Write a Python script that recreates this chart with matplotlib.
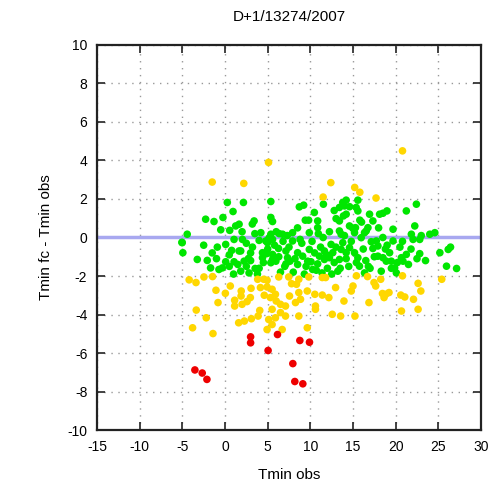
import matplotlib
matplotlib.use("Agg")
import matplotlib.pyplot as plt

title = "D+1/13274/2007"
x_label = "Tmin obs"
y_label = "Tmin fc - Tmin obs"
x_ticks = [-15, -10, -5, 0, 5, 10, 15, 20, 25, 30]
y_ticks = [-10, -8, -6, -4, -2, 0, 2, 4, 6, 8, 10]

green_x = [-4.43, -5.02, -4.94, -3.25, -2.27, -1.29, -2.08, -1.69, -0.71, -0.31, -0.90, 0.08,
           0.27, -0.24, 0.94, 0.55, 1.25, 1.65, 1.06, 2.04, 0.78, 1.65, 1.84, 0.08, 1.06, 2.24,
           2.75, 2.16, 3.41, 3.22, 3.53, 1.84, 2.82, 4.20, 4.39, 4.00, 4.78, 5.18, 5.37, 5.57,
           4.98, 5.37, 5.37, 5.57, 4.86, 5.57, 5.57, 5.37, 6.35, 6.75, 6.27, 7.14, 7.33, 7.61,
           7.92, 7.92, 8.51, 8.51, 8.71, 9.22, 9.41, 9.88, 9.88, 10.47, 10.86, 10.86, 10.94, 10.08,
           10.27, 11.06, 11.53, 11.37, 11.65, 12.24, 12.43, 12.63, 13.02, 13.41, 13.41, 13.61, 13.80,
           14.00, 14.20, 13.41, 13.88, 14.20, 13.80, 13.61, 13.41, 13.22, 14.59, 14.98, 15.37, 15.57,
           15.57, 15.29, 15.18, 14.59, 15.18, 15.57, 15.76, 16.35, 15.96, 16.55, 16.94, 17.33, 17.14,
           17.33, 17.73, 18.12, 18.51, 18.98, 17.92, 18.51, 18.90, 19.49, 18.31, 19.69, 19.69, 19.29,
           19.88, 20.08, 20.67, 20.86, 21.25, 21.25, 21.84, 22.04, 22.24, 22.43, 22.82, 22.82, 24.00,
           24.59, 25.18, 26.16, 26.43, 25.96, 27.14, 16.35, 16.75, 17.92, 14.20, 12.24, 11.65, 10.86,
           9.10, 9.69, 7.14, 5.96, 4.39,
           1.0, 2.5, 3.0, 4.0, 6.5, 7.0, 8.0, 9.5, 10.5, 12.0, 12.8, 14.5, 16.5, 17.0, 19.0, 20.5,
           21.5, 23.5, 6.0, 7.3, 3.5, 8.5, 9.0, 11.5, 14.0, 16.0, 18.5, 2.0, 0.5, -1.0, -5.05,
           0.5, 1.5, 2.5, 3.0, 3.8, 4.5, 5.0, 5.8, 6.3, 6.8, 7.5, 8.2, 8.8, 9.3, 10.2, 10.7, 11.2,
           11.9, 12.5, 13.0, 13.5, 14.2, 14.8, 15.4, 15.8, 16.2, 16.8, 17.5, 18.0, 18.8, 19.5, 20.2,
           20.8, 21.8, 22.5, 23.0, -2.5, -1.5, -0.5, 3.2, 12.8, 14.6, 9.8]
green_y = [0.17, -0.27, -0.79, -1.14, 0.95, 0.83, -1.19, -1.58, -1.66, -1.58, -0.50, -0.36,
           1.82, 1.04, 1.35, 0.37, 0.60, 0.69, -0.10, -0.10, -0.67, -0.70, -0.70, -1.26, -1.26, -1.23,
           -1.09, 1.82, 0.86, -0.50, -1.61, -1.75, -1.84, 0.25, -0.79, -0.15, -0.18, -0.01, 0.17, -0.10,
           -0.27, 1.87, 1.04, 0.83, -0.84, -0.88, -1.14, -1.31, 0.20, 0.17, -0.57, -0.70, -1.05, -1.23,
           0.25, -0.18, -0.79, -1.40, 1.59, 1.68, 0.90, 0.25, -0.62, 1.30, 0.86, 0.51, 0.20, -1.26,
           -1.66, -0.97, 1.73, -1.84, -0.70, 0.30, -0.36, -0.79, 0.98, 0.86, 0.34, 0.17, 1.82,
           1.64, 1.94, 1.56, 1.12, 1.21, -0.27, -0.62, -1.14, -1.75, 0.60, 0.48, 1.56, 1.94,
           1.38, 0.51, 0.25, -0.53, -0.79, -1.05, -1.49, -1.84, -0.01, 0.34, 1.21, 0.86, -0.22,
           -0.57, -0.18, 1.21, 1.26, 1.38, -0.97, -1.05, -1.23, -1.23, -1.75, 0.43, -0.18, -0.79,
           -1.58, -1.84, -1.05, -1.23, 1.38, -0.88, 0.17, -0.10, 0.60, 1.73, -0.10, -0.84, 0.17,
           0.25, -0.79, -0.62, -0.50, -1.49, -1.61, 0.25, 0.51, -0.44, -0.79, -1.05, -1.14, -1.37,
           -0.97, -1.23, -1.37, -1.23, -1.05,
           -1.9, -1.5, -1.2, -1.6, -1.8, -1.5, -1.8, -1.5, -0.8, -1.6, -1.3, -1.5, -1.2, -1.6, -0.4, -0.5,
           -1.4, -1.2, 0.3, 0.1, 0.2, 0.5, -0.3, 0.0, 0.1, 0.8, 0.0, 0.3, -1.5, -1.1, -0.25,
           -0.9, -1.4, -0.3, -0.8, -1.9, -1.3, -0.6, -0.4, -1.0, -0.2, -0.5, -1.1, -0.1, -1.9, -0.2,
           -1.7, -0.5, -0.9, -1.9, -0.5, -1.6, -1.1, -0.2, -1.3, 0.9, -0.6, -1.5, -1.0, 0.5, -0.6,
           -1.6, -1.3, -0.2, -0.6, -1.1, 0.1, -0.4, -0.8, 0.4, 0.7, 1.4, 1.6, 0.9]

yellow_x = [-1.5, 2.2, 5.1, 11.5, 12.4, 15.2, 15.8, 17.7, 20.8,
            -4.2, -3.4, -2.47, -1.46, 0.62, -1.06, 0.04, -0.82, 1.13, 1.13, 1.9, 1.88, 2.97, 2.58,
            2.0, 3.05, 3.83, 4.54, 4.15, 4.93, -3.37, -2.2, -3.8, -1.41, 1.6, 2.27, 3.09, 3.88, 4.07,
            4.93, 6.3, 7.47, 8.65, 9.82, 8.38, 5.52, 5.91, 5.32, 7.56, 8.65, 8.85, 9.64, 10.53, 11.4,
            12.17, 12.96, 11.4, 11.79, 13.94, 14.8, 15.0, 15.4, 6.5, 7.09, 8.26, 10.6, 10.6, 5.52,
            6.5, 7.09, 8.65, 12.57, 13.55, 15.23, 5.12, 5.91, 5.52, 4.93, 6.7, 9.64,
            16.7, 17.46, 17.66, 18.25, 18.45, 18.84, 19.22, 18.64, 16.87, 20.6, 21.07, 20.68, 20.8,
            22.09, 22.63, 22.95, 22.63, 25.4, 6.0, 7.8, 4.6]
yellow_y = [2.88, 2.81, 3.9, 2.1, 2.85, 2.6, 2.35, 2.05, 4.5,
            -2.2, -2.34, -2.05, -2.03, -2.52, -2.74, -2.9, -3.38, -3.26, -3.56, -2.78, -3.04, -3.12,
            -3.33, -3.47, -2.64, -2.17, -2.17, -2.6, -2.57, -3.77, -4.17, -4.69, -4.99, -4.43, -4.34,
            -4.22, -4.08, -3.79,
            -2.22, -2.05, -2.05, -2.17, -2.05, -2.43, -2.69, -2.95, -3.12, -3.04, -2.86, -3.21, -2.78,
            -2.95, -2.99, -3.12, -2.6, -2.08, -2.08, -3.3, -2.78, -2.52, -1.99, -3.47, -3.56, -3.38,
            -3.56, -3.73, -3.73, -3.9, -4.08, -4.08, -3.99, -4.08, -4.08, -4.26, -4.17, -4.52, -4.78,
            -4.78, -4.69,
            -2.03, -2.34, -2.52, -2.17, -2.91, -2.95, -2.86, -3.12, -3.38, -2.99, -3.09, -3.82, -1.99,
            -3.21, -2.38, -2.78, -3.73, -2.17, -3.3, -2.4, -3.0]

red_x = [-3.53, -2.67, -2.12, 3.0, 3.0, 5.05, 6.15, 7.95, 8.18, 8.77, 9.12, 9.9]
red_y = [-6.88, -7.04, -7.37, -5.16, -5.47, -5.87, -5.04, -6.55, -7.48, -5.35, -7.6, -5.44]

plt.rcParams['font.family'] = ['Liberation Sans', 'DejaVu Sans']
plt.rcParams['axes.unicode_minus'] = False

fig = plt.figure(figsize=(4.91, 4.91), dpi=100)
ax = fig.add_axes([0.1976, 0.1242, 0.782, 0.7842])

ax.set_xlim(-15, 30)
ax.set_ylim(-10, 10)
ax.set_xticks(x_ticks)
ax.set_yticks(y_ticks)
ax.grid(True, color='#999999', linestyle=(0, (1, 4)), linewidth=1.0)
ax.set_axisbelow(True)

ax.axhline(0, color='#a8a8f0', linewidth=2.5, zorder=1)

ms = 30
ax.scatter(green_x, green_y, s=ms, color='#00e600', edgecolors='none', zorder=3)
ax.scatter(yellow_x, yellow_y, s=ms, color='#ffd700', edgecolors='none', zorder=3)
ax.scatter(red_x, red_y, s=ms, color='#ee0000', edgecolors='none', zorder=3)

for sp in ax.spines.values():
    sp.set_linewidth(1.6)
    sp.set_color('#222222')
ax.tick_params(direction='in', length=6, width=1.2, top=True, right=True,
               labelsize=10, pad=7, colors='#222222')
for lab in ax.get_xticklabels() + ax.get_yticklabels():
    lab.set_color('black')

ax.set_title(title, fontsize=11, pad=17)
ax.set_xlabel(x_label, fontsize=11, labelpad=10)
ax.set_ylabel(y_label, fontsize=11, labelpad=10)

fig.savefig("out.png", dpi=100)
